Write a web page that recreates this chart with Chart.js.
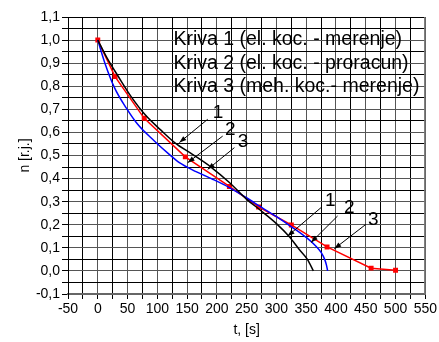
<!DOCTYPE html>
<html>
<head>
<meta charset="utf-8">
<script src="https://cdn.jsdelivr.net/npm/chart.js@4/dist/chart.umd.min.js"></script>
<style>
  html, body { margin: 0; padding: 0; background: #fff; }
  #wrap { width: 439px; height: 342px; }
</style>
</head>
<body>
<div id="wrap"><canvas id="chart"></canvas></div>
<script>
// Kriva 1 — el. kočenje, merenje
const k1T = [0, 15, 35, 56, 80, 105, 129, 159, 190, 221, 250, 271, 300, 321, 338, 352, 362];
const k1N = [1.0, 0.925, 0.84, 0.755, 0.675, 0.612, 0.556, 0.505, 0.45, 0.383, 0.31, 0.267, 0.205, 0.15, 0.094, 0.05, 0.0];

// Kriva 2 — el. kočenje, proračun
const k2T = [0, 12, 28, 48, 67, 95, 120, 137, 165, 193, 221, 249, 275, 300, 327, 350, 366, 375, 381, 384, 386];
const k2N = [1.0, 0.9, 0.794, 0.705, 0.635, 0.563, 0.505, 0.469, 0.43, 0.397, 0.361, 0.318, 0.275, 0.235, 0.188, 0.145, 0.108, 0.08, 0.05, 0.025, 0.0];

// Kriva 3 — meh. kočenje, merenje (izmerene tačke)
const k3T = [0, 29, 78, 147, 221, 270, 325, 385, 459, 500];
const k3N = [1.0, 0.842, 0.661, 0.494, 0.366, 0.277, 0.199, 0.104, 0.012, 0.003];

const legendLines = ['Kriva 1 (el. koc. - merenje)', 'Kriva 2 (el. koc. - proracun)', 'Kriva 3 (meh. koc.- merenje)'];

// oznake krivih sa strelicama, u koordinatama podataka [t, n]
const marks = [
  { txt: '1', at: [202, 0.683], from: [184.6, 0.657], to: [137, 0.556] },
  { txt: '2', at: [222.6, 0.611], from: [209.7, 0.584], to: [151, 0.469] },
  { txt: '3', at: [244, 0.559], from: [229.4, 0.534], to: [184.6, 0.44] },
  { txt: '1', at: [390.4, 0.303], from: [374.8, 0.274], to: [318.8, 0.151] },
  { txt: '2', at: [422.3, 0.273], from: [402.7, 0.238], to: [358, 0.123] },
  { txt: '3', at: [462.6, 0.222], from: [450.3, 0.202], to: [397.2, 0.096] },
];

const FONT = "'Liberation Sans', Arial, sans-serif";
const pts = (xs, ys) => xs.map((x, i) => ({ x, y: ys[i] }));
const isMajorX = (v) => Math.round(v) % 50 === 0;
const isMajorY = (v) => Math.round(v * 100) % 10 === 0;

const overlay = {
  id: 'overlay',
  afterDatasetsDraw(chart) {
    const { ctx, chartArea: a, scales: { x, y } } = chart;
    ctx.save();
    // okvir gore i desno
    ctx.lineWidth = 1;
    ctx.strokeStyle = '#000';
    ctx.beginPath();
    ctx.moveTo(a.left, a.top + 0.5);
    ctx.lineTo(a.right, a.top + 0.5);
    ctx.stroke();
    ctx.strokeStyle = '#777';
    ctx.lineWidth = 1.5;
    ctx.beginPath();
    ctx.moveTo(a.right - 0.5, a.top);
    ctx.lineTo(a.right - 0.5, a.bottom);
    ctx.stroke();

    // legenda kao tekst u polju grafika
    ctx.fillStyle = '#000';
    ctx.font = '19.5px ' + FONT;
    ctx.textAlign = 'left';
    ctx.textBaseline = 'middle';
    legendLines.forEach((s, i) => {
      ctx.fillText(s, x.getPixelForValue(127), y.getPixelForValue(1.0 - i * 0.1));
    });

    // brojevi krivih i strelice
    ctx.font = '19px ' + FONT;
    ctx.textAlign = 'center';
    ctx.lineWidth = 1;
    ctx.strokeStyle = '#000';
    marks.forEach((m) => {
      ctx.fillText(m.txt, x.getPixelForValue(m.at[0]), y.getPixelForValue(m.at[1]));
      const x0 = x.getPixelForValue(m.from[0]), y0 = y.getPixelForValue(m.from[1]);
      const x1 = x.getPixelForValue(m.to[0]), y1 = y.getPixelForValue(m.to[1]);
      ctx.beginPath();
      ctx.moveTo(x0, y0);
      ctx.lineTo(x1, y1);
      ctx.stroke();
      const ang = Math.atan2(y1 - y0, x1 - x0);
      const len = 7, half = 2.5;
      ctx.beginPath();
      ctx.moveTo(x1, y1);
      ctx.lineTo(x1 - len * Math.cos(ang) + half * Math.sin(ang), y1 - len * Math.sin(ang) - half * Math.cos(ang));
      ctx.lineTo(x1 - len * Math.cos(ang) - half * Math.sin(ang), y1 - len * Math.sin(ang) + half * Math.cos(ang));
      ctx.closePath();
      ctx.fill();
    });
    ctx.restore();
  },
};

new Chart(document.getElementById('chart'), {
  type: 'line',
  data: {
    datasets: [
      {
        label: 'Kriva 1',
        data: pts(k1T, k1N),
        borderColor: '#000',
        borderWidth: 1.5,
        pointRadius: 0,
        cubicInterpolationMode: 'monotone',
      },
      {
        label: 'Kriva 2',
        data: pts(k2T, k2N),
        borderColor: '#0000ff',
        borderWidth: 1.5,
        pointRadius: 0,
        cubicInterpolationMode: 'monotone',
      },
      {
        label: 'Kriva 3',
        data: pts(k3T, k3N),
        borderColor: '#ff0000',
        backgroundColor: '#ff0000',
        borderWidth: 1.5,
        pointStyle: 'rect',
        pointRadius: 3.5,
        pointBorderWidth: 0,
        tension: 0,
      },
    ],
  },
  options: {
    responsive: true,
    maintainAspectRatio: false,
    animation: false,
    layout: { padding: { top: 17, right: 13, left: 0, bottom: 0 } },
    plugins: { legend: { display: false }, tooltip: { enabled: false } },
    scales: {
      x: {
        type: 'linear',
        min: -50,
        max: 550,
        afterFit: (s) => { s.height = 48; },
        ticks: {
          stepSize: 25,
          autoSkip: false,
          maxRotation: 0,
          padding: 2,
          color: '#000',
          font: { family: FONT, size: 14 },
          callback: (v) => (isMajorX(v) ? String(v) : ''),
        },
        grid: {
          color: (c) => (isMajorX(c.tick.value) ? '#555' : '#000'),
          borderDash: [1, 1],
          tickLength: 5,
          tickColor: '#000',
          tickBorderDash: [],
        },
        border: { color: '#666', width: 2 },
        title: {
          display: true,
          text: 't, [s]',
          color: '#000',
          font: { family: FONT, size: 14 },
          padding: { top: 0, bottom: 3.5 },
        },
      },
      y: {
        min: -0.1,
        max: 1.1,
        afterFit: (s) => { s.width = 68; },
        ticks: {
          stepSize: 0.05,
          autoSkip: false,
          padding: 2,
          color: '#000',
          font: { family: FONT, size: 14 },
          callback: (v) => (isMajorY(v) ? (Math.round(v * 10) / 10).toFixed(1).replace('.', ',') : ''),
        },
        grid: {
          color: (c) => (isMajorY(c.tick.value) ? '#555' : '#000'),
          borderDash: [1, 1],
          tickLength: 6,
          tickColor: '#000',
          tickBorderDash: [],
        },
        border: { color: '#000', width: 1 },
        title: {
          display: true,
          text: 'n [r.j.]',
          color: '#000',
          font: { family: FONT, size: 14 },
          padding: { top: 16.5, bottom: 0 },
        },
      },
    },
  },
  plugins: [overlay],
});
</script>
</body>
</html>
